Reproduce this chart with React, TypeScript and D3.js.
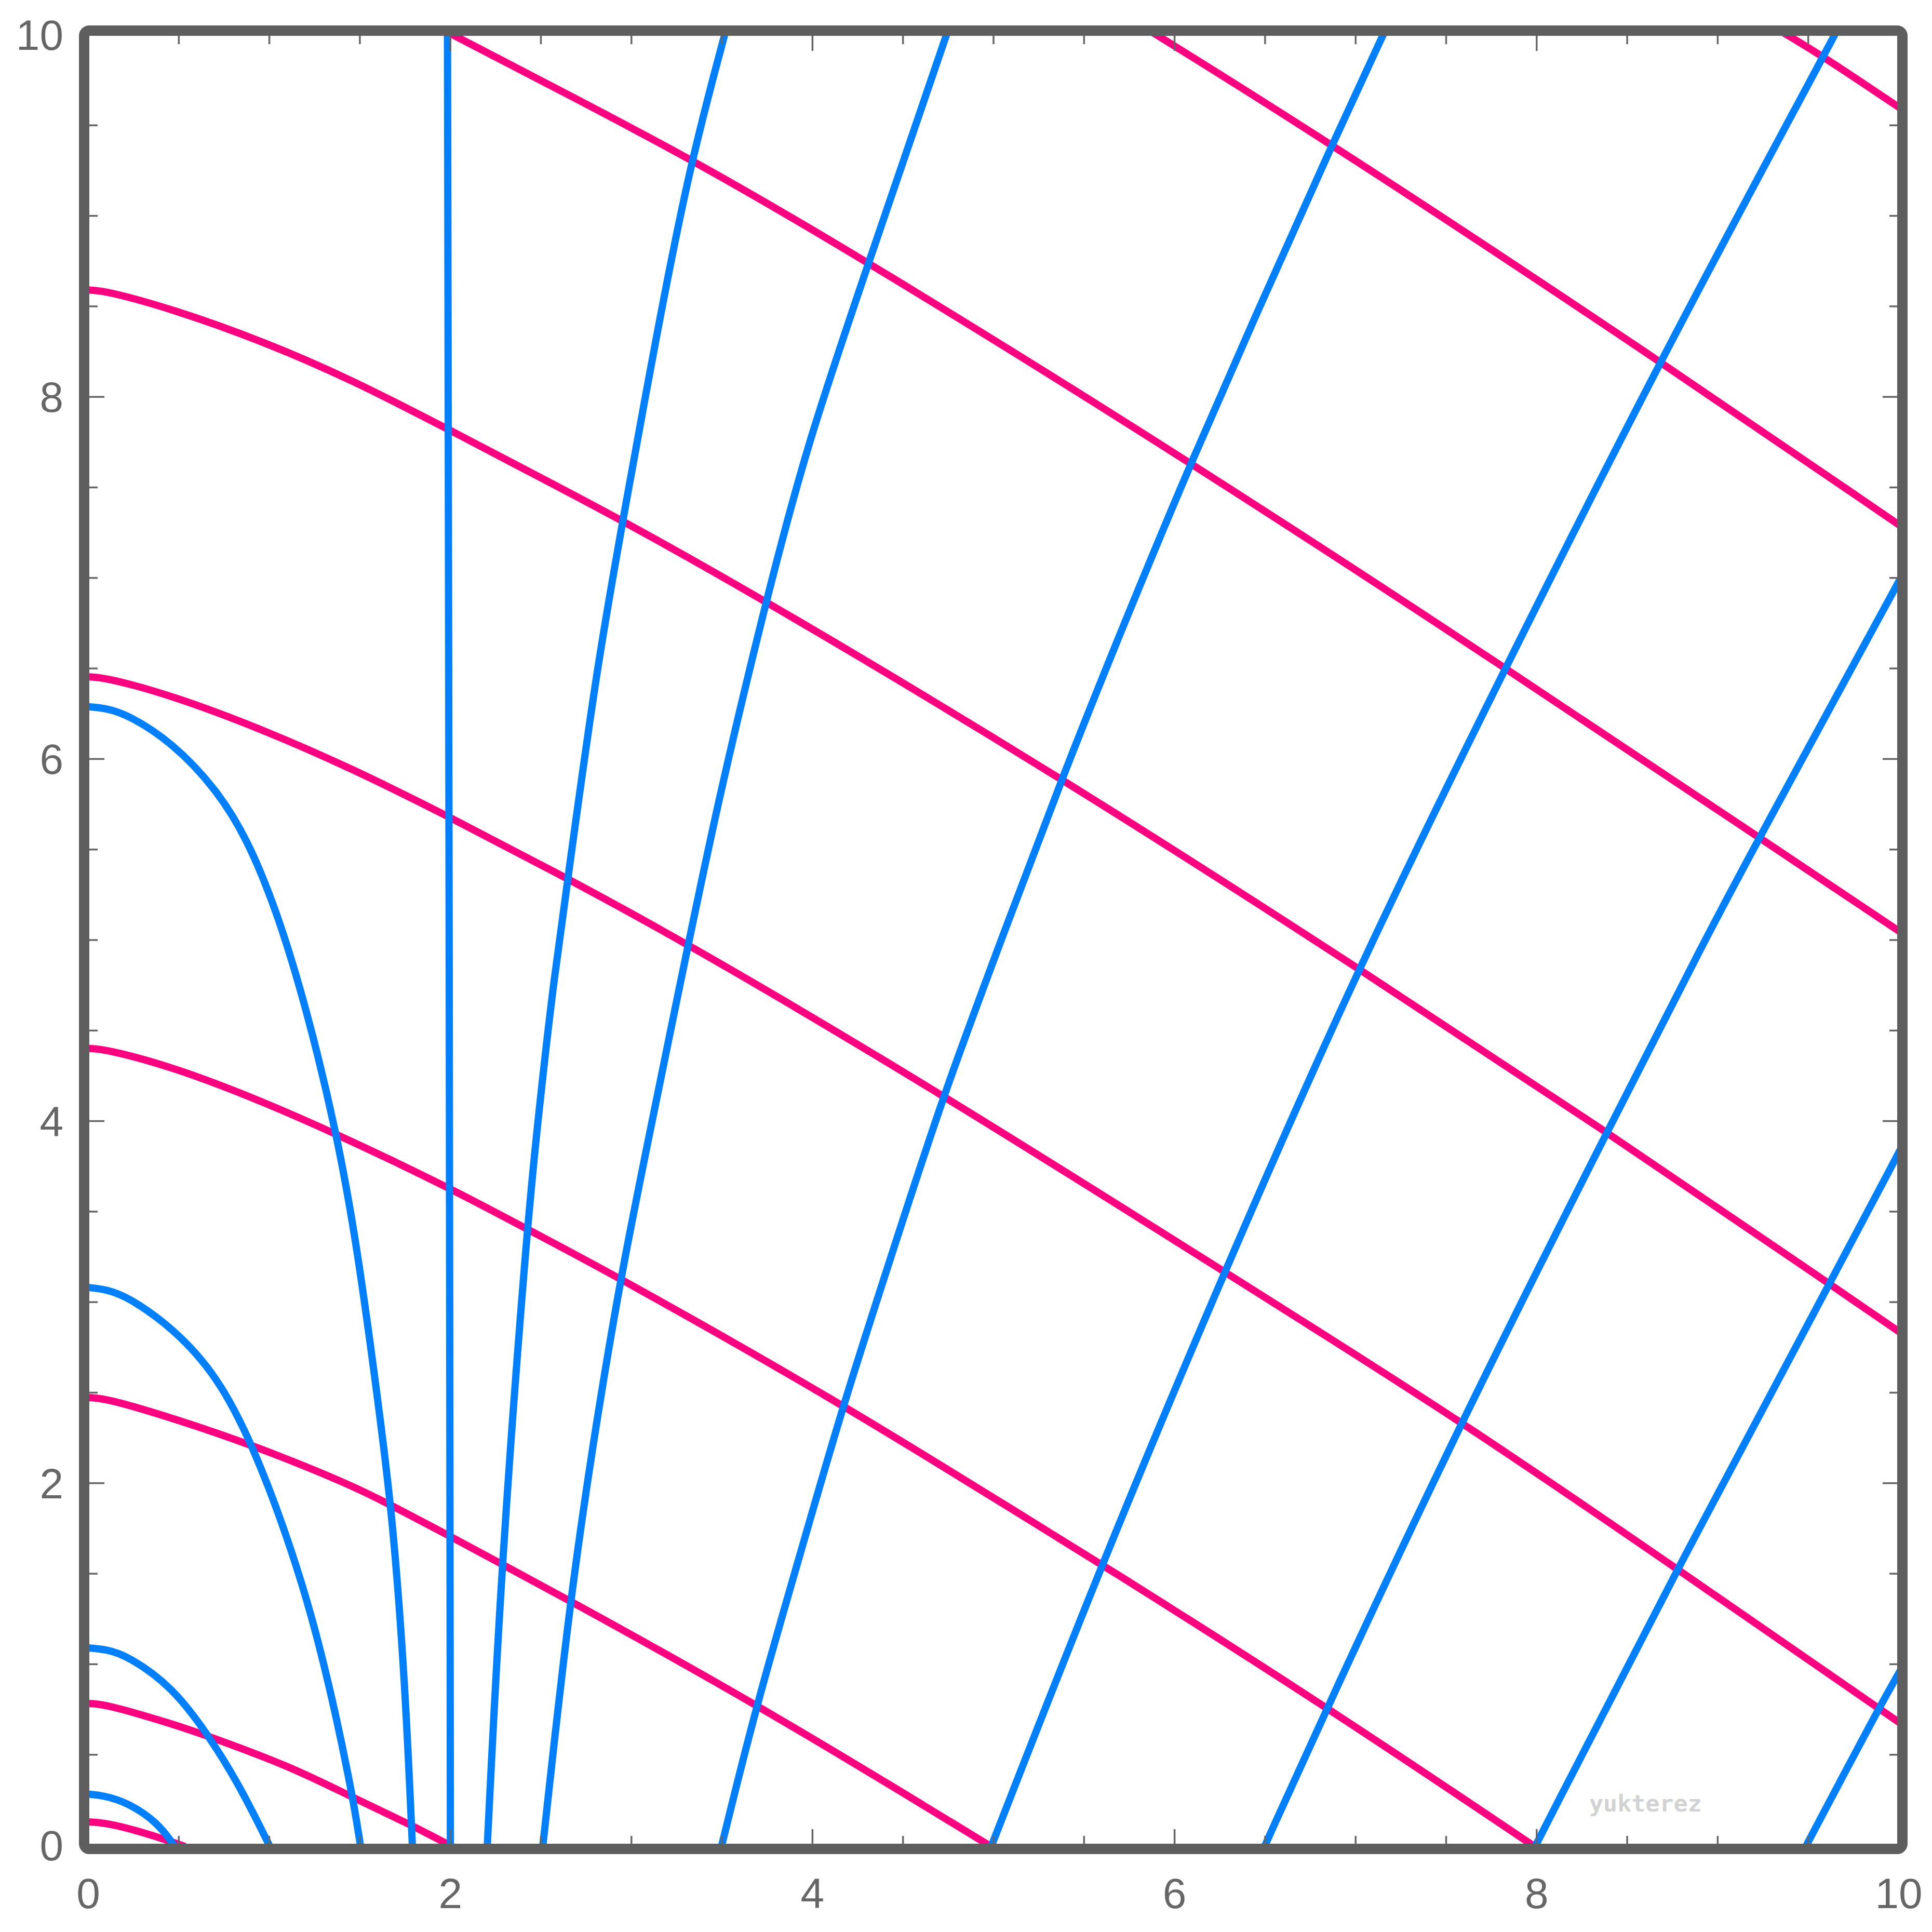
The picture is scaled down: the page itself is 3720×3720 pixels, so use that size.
import * as d3 from 'd3';

type Pt = [number, number];

// contour lines (x, y in data units)
const pink1: Pt[] = [[0, 0.129], [0.08, 0.125], [0.218, 0.095], [0.38, 0.047], [0.515, 0]];
const pink2: Pt[] = [[0, 0.783], [0.1, 0.778], [0.465, 0.67], [0.663, 0.603], [1.124, 0.432], [1.453, 0.267], [1.783, 0.113], [1.996, 0]];
const pink3: Pt[] = [[0, 2.473], [0.1, 2.468], [0.465, 2.36], [0.91, 2.21], [1.453, 1.99], [1.659, 1.885], [1.993, 1.71], [2.277, 1.556], [2.553, 1.409], [3.692, 0.782], [4.975, 0]];
const pink4: Pt[] = [[0, 4.401], [0.1, 4.396], [0.465, 4.3], [0.959, 4.11], [1.371, 3.929], [1.993, 3.633], [2.425, 3.402], [2.939, 3.133], [4.169, 2.434], [4.964, 1.94], [5.596, 1.554], [6.843, 0.763], [7.978, 0]];
const pink5: Pt[] = [[0, 6.454], [0.1, 6.449], [0.465, 6.35], [0.959, 6.165], [1.453, 5.949], [1.993, 5.681], [2.553, 5.389], [3.28, 5.0], [4.723, 4.146], [6.274, 3.168], [7.584, 2.344], [8.775, 1.527], [9.889, 0.756], [10, 0.68]];
const pink6: Pt[] = [[0, 8.59], [0.1, 8.585], [0.465, 8.485], [0.959, 8.31], [1.453, 8.096], [1.989, 7.821], [2.553, 7.525], [2.945, 7.32], [3.768, 6.86], [5.378, 5.896], [7.012, 4.848], [8.389, 3.94], [9.618, 3.1], [10, 2.838]];
const pink7: Pt[] = [[2.013, 10], [2.553, 9.72], [3.34, 9.31], [4.312, 8.744], [6.091, 7.64], [7.827, 6.504], [9.23, 5.565], [10, 5.05]];
const pink8: Pt[] = [[5.9, 10], [6.871, 9.396], [8.68, 8.2], [10, 7.294]];
const pink9: Pt[] = [[9.383, 10], [9.583, 9.88], [10, 9.6]];

const blue1: Pt[] = [[0, 0.282], [0.08, 0.276], [0.218, 0.236], [0.383, 0.126], [0.473, 0]];
const blue2: Pt[] = [[0, 1.09], [0.1, 1.082], [0.218, 1.046], [0.465, 0.875], [0.663, 0.608], [0.828, 0.344], [1.0, 0]];
const blue3: Pt[] = [[0, 3.081], [0.1, 3.07], [0.218, 3.03], [0.465, 2.86], [0.712, 2.594], [0.91, 2.21], [1.124, 1.639], [1.289, 1.08], [1.453, 0.32], [1.503, 0]];
const blue4: Pt[] = [[0, 6.289], [0.1, 6.28], [0.218, 6.245], [0.465, 6.091], [0.712, 5.828], [0.877, 5.56], [1.042, 5.16], [1.206, 4.62], [1.371, 3.94], [1.486, 3.307], [1.618, 2.32], [1.684, 1.771], [1.75, 0.893], [1.79, 0]];
const blue5: Pt[] = [[1.984, 10], [1.994, 5], [2.0, 0]];
const blue6: Pt[] = [[3.515, 10], [3.32, 9.27], [3.14, 8.35], [2.98, 7.47], [2.81, 6.52], [2.655, 5.38], [2.56, 4.7], [2.478, 3.95], [2.423, 3.407], [2.281, 1.55], [2.204, 0]];
const blue7: Pt[] = [[4.74, 10], [4.31, 8.74], [3.97, 7.74], [3.74, 6.86], [3.46, 5.7], [3.17, 4.27], [2.95, 3.2], [2.8, 2.3], [2.66, 1.358], [2.511, 0]];
const blue8: Pt[] = [[7.152, 10], [6.871, 9.396], [6.48, 8.52], [6.091, 7.64], [5.73, 6.77], [5.378, 5.896], [5.05, 5.02], [4.723, 4.146], [4.45, 3.3], [4.169, 2.434], [3.93, 1.6], [3.692, 0.782], [3.499, 0]];
const blue9: Pt[] = [[9.646, 10], [9.583, 9.88], [8.68, 8.2], [7.827, 6.504], [7.012, 4.848], [6.274, 3.168], [5.596, 1.554], [4.99, 0]];
const blue10: Pt[] = [[10, 6.98], [9.23, 5.565], [8.944, 5.03], [8.389, 3.94], [7.584, 2.344], [6.843, 0.763], [6.5, 0]];
const blue11: Pt[] = [[10, 3.826], [9.618, 3.1], [8.775, 1.527], [7.995, 0]];
const blue12: Pt[] = [[10, 0.95], [9.889, 0.756], [9.49, 0]];

const pinkCurves = [pink1, pink2, pink3, pink4, pink5, pink6, pink7, pink8, pink9];
const blueCurves = [blue1, blue2, blue3, blue4, blue5, blue6, blue7, blue8, blue9, blue10, blue11, blue12];

const majorTicks = [0, 2, 4, 6, 8, 10];
const minorTicks = [0.5, 1, 1.5, 2.5, 3, 3.5, 4.5, 5, 5.5, 6.5, 7, 7.5, 8.5, 9, 9.5];

const PINK = '#ff0080';
const BLUE = '#0080ff';
const FRAME = '#5e5e5e';
const TICK = '#666666';

const SIZE = 3720;
const left = 170;
const right = 3656;
const top = 67;
const bottom = 3553;

export default function App() {
  const x = d3.scaleLinear().domain([0, 10]).range([left, right]);
  const y = d3.scaleLinear().domain([0, 10]).range([bottom, top]);

  // b-spline smooths out the small reading errors in the traced points
  const line = d3
    .line<Pt>()
    .x((d) => x(d[0]))
    .y((d) => y(d[1]))
    .curve(d3.curveBasis);

  const majorLen = 31;
  const minorLen = 18;

  const ticks: JSX.Element[] = [];
  const addTicks = (vals: number[], len: number, key: string) => {
    vals.forEach((v, i) => {
      const px = x(v);
      const py = y(v);
      ticks.push(<line key={`${key}b${i}`} x1={px} x2={px} y1={bottom} y2={bottom - len} />);
      ticks.push(<line key={`${key}t${i}`} x1={px} x2={px} y1={top} y2={top + len} />);
      ticks.push(<line key={`${key}l${i}`} x1={left} x2={left + len} y1={py} y2={py} />);
      ticks.push(<line key={`${key}r${i}`} x1={right} x2={right - len} y1={py} y2={py} />);
    });
  };
  addTicks(majorTicks, majorLen, 'M');
  addTicks(minorTicks, minorLen, 'm');

  return (
    <svg
      width={SIZE}
      height={SIZE}
      viewBox={`0 0 ${SIZE} ${SIZE}`}
      style={{ position: 'absolute', left: 0, top: 0, display: 'block', background: '#fff' }}
    >
      <defs>
        <clipPath id="plot">
          <rect x={left} y={top} width={right - left} height={bottom - top} />
        </clipPath>
      </defs>
      <rect x={0} y={0} width={SIZE} height={SIZE} fill="#fff" />

      <g clipPath="url(#plot)" fill="none" strokeWidth={14} strokeLinecap="square">
        {pinkCurves.map((c, i) => (
          <path key={`p${i}`} d={line(c) || ''} stroke={PINK} />
        ))}
        {blueCurves.map((c, i) => (
          <path key={`b${i}`} d={line(c) || ''} stroke={BLUE} />
        ))}
      </g>

      <g stroke={TICK} strokeWidth={3.5}>{ticks}</g>

      <rect
        x={left - 8}
        y={top - 8}
        width={right - left + 15}
        height={bottom - top + 15}
        rx={10}
        ry={10}
        fill="none"
        stroke={FRAME}
        strokeWidth={20}
      />

      <g fill={TICK} fontFamily="'Liberation Sans', Arial, sans-serif" fontSize={82}>
        {majorTicks.map((v) => (
          <text key={`xl${v}`} x={x(v)} y={3674} textAnchor="middle">
            {v}
          </text>
        ))}
        {majorTicks.map((v) => (
          <text key={`yl${v}`} x={122} y={y(v) + 29} textAnchor="end">
            {v}
          </text>
        ))}
      </g>

      <text
        x={3060}
        y={3488}
        fontFamily="'DejaVu Sans Mono', monospace"
        fontWeight="bold"
        fontSize={45}
        fill="#d2d2d2"
      >
        yukterez
      </text>
    </svg>
  );
}
